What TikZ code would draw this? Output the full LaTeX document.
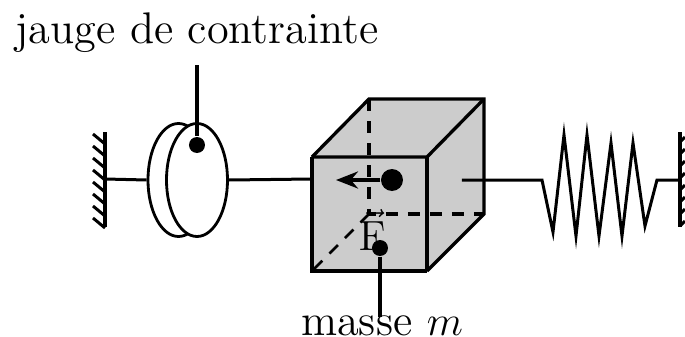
\documentclass[tikz,border=0pt]{standalone}
\usepackage{amsmath}
\usepackage{xcolor}
\usetikzlibrary{shapes.geometric,arrows.meta}
\definecolor{cubegray}{gray}{0.8}
\tikzset{
  disc/.style={draw, ellipse, fill=white, line width=0.28mm, minimum width=6.1cm*0.1, minimum height=11.3cm*0.1, inner sep=0pt},
  dot/.style={circle, fill=black, inner sep=0pt, minimum size=1.6mm},
  lbl/.style={font=\fontsize{12.6}{14}\selectfont, inner sep=0pt},
  rod/.style={line width=0.3mm},
  stem/.style={line width=0.4mm},
  wall/.style={line width=0.4mm},
  hatch/.style={line width=0.3mm},
  edge/.style={line width=0.33mm, line join=miter},
  hidden/.style={line width=0.33mm, dashed, dash pattern=on 1.2mm off 1mm},
}
\begin{document}
\begin{tikzpicture}[x=0.1mm,y=-0.1mm]
\useasboundingbox (0,0) rectangle (685,337);
% cube
\coordinate (fa) at (312,157);
\coordinate (fb) at (427,157);
\coordinate (fc) at (427,271);
\coordinate (fd) at (312,271);
\coordinate (ba) at (369,99);
\coordinate (bb) at (484,99);
\coordinate (bc) at (484,214);
\coordinate (bd) at (369,214);
\fill[cubegray] (fa) -- (ba) -- (bb) -- (bc) -- (fc) -- (fd) -- cycle;
\draw[hidden] (ba) -- (bd) -- (bc);
\draw[hidden, line width=0.25mm] (bd) -- (fd);
\draw[edge] (fa) -- (ba) -- (bb) -- (bc) -- (fc);
\draw[edge] (fa) -- (fb) -- (bb);
\draw[edge] (fb) -- (fc);
\draw[edge, line width=0.45mm] (fa) -- (fd) -- (fc);
% left side
\coordinate (wl) at (105,179);
\coordinate (wltop) at (105,132);
\coordinate (wlbot) at (105,227);
\node[disc] (dback) at (178.5,180) {};
\node[disc] (dfront) at (197,180) {};
\draw[wall] (wltop) -- (wlbot);
\foreach \y in {144,156,...,228} \draw[hatch] (105,\y) -- (93,\y-10);
\draw[rod] (wl) -- (dback.west);
\draw[rod] (dfront.east) -- (fa |- wl);
\node[lbl] (jauge) at (197,33) {jauge de contrainte};
\node[dot] (jdot) at (197,145) {};
\coordinate (jtop) at (197,65);
\draw[stem] (jtop) -- (jdot);
% force on the mass
\node[dot, minimum size=2.2mm] (fdot) at (392,180) {};
\coordinate (ftip) at (336,180);
\draw[stem, -{Stealth[length=2.2mm,width=1.7mm]}] (fdot) -- (ftip);
\node[lbl, font=\fontsize{13}{14}\selectfont] (force) at (372,230) {$\vec{\mathrm{F}}$};
\node[dot] (mdot) at (380,248) {};
\node[lbl] (masse) at (382,326) {masse $m$};
\draw[stem] (mdot) -- (380,317);
% spring and right wall
\coordinate (sa) at (462,180);
\coordinate (wr) at (680,180);
\coordinate (wrtop) at (680,132);
\coordinate (wrbot) at (680,227);
\draw[rod, line join=miter] (sa) -- (542,180) -- (553,232) -- (564,135) -- (576,236) -- (587,135)
  -- (599,236) -- (611,143) -- (622,236) -- (633,143) -- (645,226) -- (657,180) -- (wr);
\draw[wall] (wrtop) -- (wrbot);
\foreach \y in {142,154,...,226} \draw[hatch] (680,\y) -- (685,\y-5);
\end{tikzpicture}
\end{document}
